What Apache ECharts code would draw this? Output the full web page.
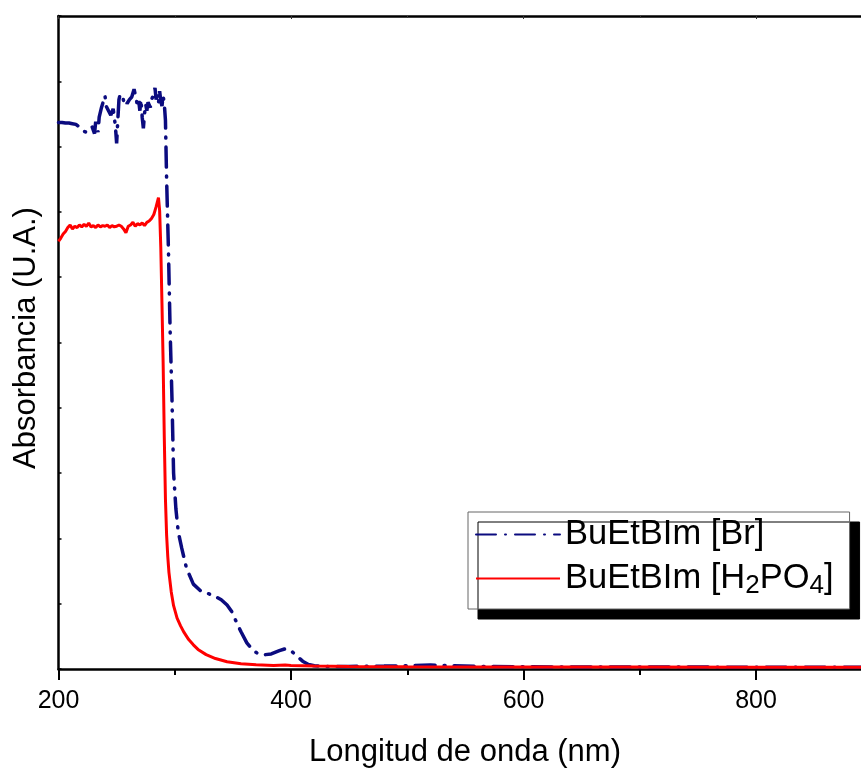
<!DOCTYPE html>
<html>
<head>
<meta charset="utf-8">
<script src="https://cdn.jsdelivr.net/npm/echarts@6/dist/echarts.min.js"></script>
<style>
html,body{margin:0;padding:0;background:#fff;}
#chart{width:861px;height:769px;}
</style>
</head>
<body>
<div id="chart"></div>
<script>
// Series names
var seriesNames = ['BuEtBIm [Br]', 'BuEtBIm [H2PO4]'];

// BuEtBIm [Br] (dash-dot navy)
var brWavelength = [200,203,206,209,212,215,218,221,224,227,229,231,232,234,235,237,239,240,241,243,245,247,248,249,250,251,252,253,255,256,257,259,261,263,265,266,267,268,269,270,271,272,273,274,275,276,277,279,280,282,283,284,285,286,287,288,289,290,291,292,293,294.6,296,297.6,299,301,303,306,310,316,322,328,334,340,345,349,353,357,362,367,372,378,383,390,395,400,405,410,415,420,430,450,480,500,520,540,560,600,650,700,750,800,850,900];
var brAbsorbance = [8.37,8.37,8.36,8.36,8.35,8.34,8.30,8.24,8.22,8.25,8.30,8.20,8.38,8.22,8.45,8.60,8.72,8.78,8.62,8.55,8.48,8.58,8.45,8.30,8.05,8.40,8.72,8.80,8.78,8.70,8.74,8.66,8.72,8.76,8.88,8.80,8.72,8.60,8.70,8.55,8.72,8.45,8.28,8.50,8.65,8.55,8.68,8.60,8.72,8.80,8.90,8.72,8.80,8.66,8.85,8.70,8.62,8.78,8.66,8.40,7.50,6.40,5.20,4.15,3.00,2.45,2.10,1.85,1.55,1.30,1.20,1.16,1.12,1.06,0.98,0.88,0.72,0.57,0.40,0.29,0.23,0.22,0.23,0.28,0.31,0.28,0.20,0.12,0.07,0.05,0.04,0.04,0.045,0.05,0.06,0.05,0.04,0.035,0.03,0.03,0.03,0.025,0.025,0.025];

// BuEtBIm [H2PO4] (solid red)
var h2po4Wavelength = [200,202,204,206,208,210,212,214,216,218,220,222,224,226,228,230,232,234,236,238,240,242,244,246,248,250,252,254,256,258,260,262,264,266,268,270,272,274,276,278,280,282,283,284,285,286,287,288,289,290,291,292,293,294,295,297,299,302,305,308,312,316,320,327,335,345,357,370,385,395,400,420,450,500,600,700,800,900];
var h2po4Absorbance = [6.55,6.60,6.66,6.70,6.76,6.80,6.74,6.78,6.76,6.80,6.77,6.81,6.78,6.83,6.77,6.79,6.76,6.80,6.77,6.79,6.78,6.80,6.76,6.79,6.77,6.78,6.80,6.78,6.74,6.68,6.78,6.80,6.84,6.78,6.82,6.80,6.83,6.79,6.84,6.86,6.90,6.96,7.02,7.08,7.15,7.22,7.02,6.45,5.60,4.70,3.55,2.60,2.05,1.72,1.48,1.18,0.97,0.78,0.66,0.56,0.45,0.37,0.30,0.22,0.16,0.11,0.08,0.065,0.055,0.06,0.055,0.045,0.04,0.035,0.03,0.03,0.025,0.025];

// Axis ticks
var xMin = 200, xMax = 1000, xInterval = 200;
var yMin = 0, yMax = 10, yInterval = 1;
var xTitle = 'Longitud de onda (nm)';
var yTitle = 'Absorbancia (U.A.)';

function pairs(xs, ys) {
  var out = [];
  for (var i = 0; i < xs.length; i++) out.push([xs[i], ys[i]]);
  return out;
}

var FONT = 'Liberation Sans, Arial, sans-serif';
var chart = echarts.init(document.getElementById('chart'), null, {renderer: 'canvas'});
chart.setOption({
  backgroundColor: '#ffffff',
  animation: false,
  grid: {left: 58.5, right: -127.5, top: 16, bottom: 100, containLabel: false, outerBoundsMode: 'none'},
  xAxis: [{
    type: 'value', position: 'bottom', min: xMin, max: xMax, interval: xInterval,
    axisLine: {show: true, onZero: false, lineStyle: {color: '#000', width: 2.5}},
    axisTick: {show: true, inside: false, length: 11, lineStyle: {color: '#000', width: 2}},
    minorTick: {show: true, splitNumber: 2, length: 6, lineStyle: {color: '#000', width: 2}},
    axisLabel: {show: true, color: '#000', fontSize: 25, fontFamily: FONT, margin: 20},
    splitLine: {show: false}
  }, {
    type: 'value', position: 'top', min: xMin, max: xMax, interval: xInterval,
    axisLine: {show: true, onZero: false, lineStyle: {color: '#000', width: 2.5}},
    axisTick: {show: true, inside: true, length: 3, lineStyle: {color: '#333', width: 1}},
    minorTick: {show: true, splitNumber: 2, length: 2, lineStyle: {color: '#333', width: 1}},
    axisLabel: {show: false},
    splitLine: {show: false}
  }],
  yAxis: [{
    type: 'value', position: 'left', min: yMin, max: yMax, interval: yInterval,
    axisLine: {show: true, onZero: false, lineStyle: {color: '#000', width: 2.5}},
    axisTick: {show: true, inside: true, length: 3, lineStyle: {color: '#000', width: 1.5}},
    axisLabel: {show: false},
    splitLine: {show: false}
  }],
  legend: {
    show: true,
    orient: 'vertical',
    left: 468, top: 512,
    data: seriesNames,
    backgroundColor: '#ffffff',
    borderColor: '#666',
    borderWidth: 1,
    borderRadius: 0,
    padding: [2, 16, 10, 7],
    shadowColor: '#000',
    shadowBlur: 0,
    shadowOffsetX: 10,
    shadowOffsetY: 10,
    itemWidth: 84,
    itemHeight: 14,
    itemGap: 3,
    selectedMode: false,
    itemStyle: {opacity: 0},
    formatter: function (name) {
      if (name === 'BuEtBIm [H2PO4]') return 'BuEtBIm [H{sub|2}PO{sub|4}]';
      return name;
    },
    textStyle: {
      color: '#000', fontSize: 34.5, fontFamily: FONT, lineHeight: 41,
      rich: {
        sub: {color: '#000', fontSize: 26, fontFamily: FONT, lineHeight: 12, verticalAlign: 'bottom'}
      }
    }
  },
  graphic: [{
    type: 'text', x: 465, y: 752,
    style: {text: xTitle, fill: '#000', font: '31px ' + FONT, textAlign: 'center', textVerticalAlign: 'middle'},
    silent: true
  }, {
    type: 'text', rotation: Math.PI / 2,
    x: 26, y: 338,
    style: {text: yTitle, fill: '#000', font: '31px ' + FONT, textAlign: 'center', textVerticalAlign: 'middle'},
    silent: true
  }],
  series: [{
    name: seriesNames[0], type: 'line', xAxisIndex: 0, yAxisIndex: 0,
    data: pairs(brWavelength, brAbsorbance),
    symbol: 'none', showSymbol: false, smooth: false,
    lineStyle: {color: '#0b0b7f', width: 3.5, type: [20, 9, 1, 9], cap: 'round'},
    itemStyle: {color: '#0b0b7f'},
    z: 2
  }, {
    name: seriesNames[1], type: 'line', xAxisIndex: 0, yAxisIndex: 0,
    data: pairs(h2po4Wavelength, h2po4Absorbance),
    symbol: 'none', showSymbol: false, smooth: false,
    lineStyle: {color: '#ff0000', width: 3},
    itemStyle: {color: '#ff0000'},
    z: 3
  }]
});
</script>
</body>
</html>
